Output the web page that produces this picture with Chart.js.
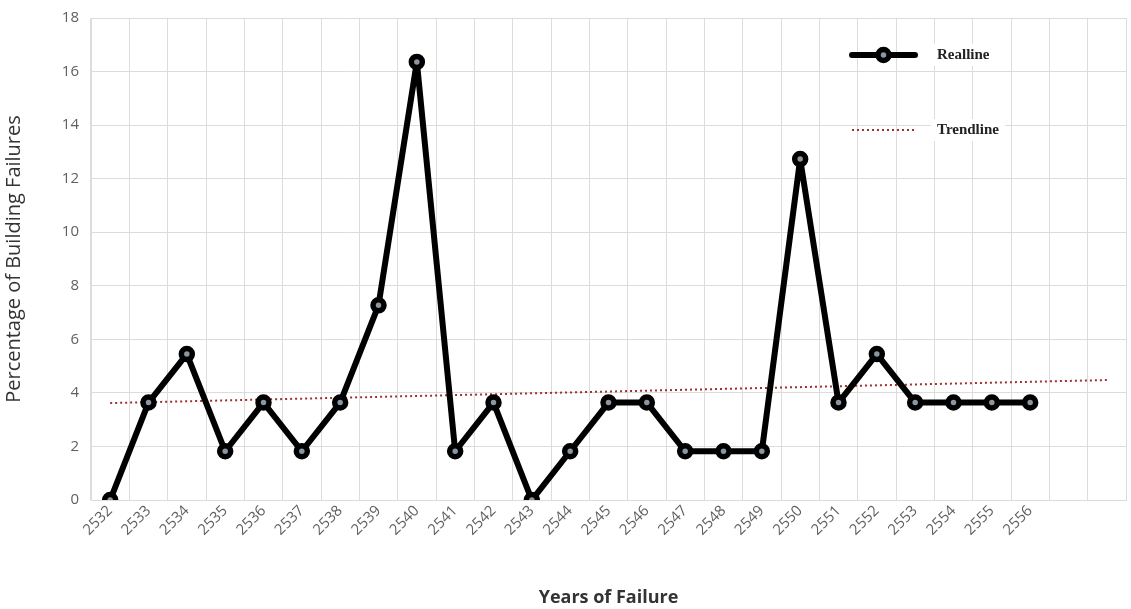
<!DOCTYPE html>
<html>
<head>
<meta charset="utf-8">
<script src="https://cdn.jsdelivr.net/npm/chart.js@4"></script>
<style>
  html, body { margin: 0; padding: 0; background: #fff; }
  #wrap { width: 1131px; height: 609px; }
</style>
</head>
<body>
<div id="wrap"><canvas id="lineChart"></canvas></div>
<script>
// years on the x axis, two empty slots at the end like the original sheet
const years = ['2532', '2533', '2534', '2535', '2536', '2537', '2538', '2539', '2540', '2541',
    '2542', '2543', '2544', '2545', '2546', '2547', '2548', '2549', '2550', '2551',
    '2552', '2553', '2554', '2555', '2556', '', ''];

// percentage of building failures per year
const realline = [0, 3.64, 5.45, 1.82, 3.64, 1.82, 3.64, 7.27, 16.36, 1.82,
    3.64, 0, 1.82, 3.64, 3.64, 1.82, 1.82, 1.82, 12.73, 3.64,
    5.45, 3.64, 3.64, 3.64, 3.64];

// trend line read at both ends, drawn straight between them
const trendline = [3.62, null, null, null, null, null, null, null, null, null,
    null, null, null, null, null, null, null, null, null, null,
    null, null, null, null, null, null, 4.48];

const yTicks = [0, 2, 4, 6, 8, 10, 12, 14, 16, 18];

const gridColor = '#dcdcdc';
const tickColor = '#606060';

// legend drawn inside the plot area, top right
const legendInside = {
    id: 'legendInside',
    afterDraw(chart) {
        const c = chart.ctx;
        const a = chart.chartArea;
        const x0 = a.right - 274;
        const x1 = a.right - 211;
        const tx = a.right - 189;
        const rows = [
            { y: a.top + 37, text: 'Realline' },
            { y: a.top + 112, text: 'Trendline' }
        ];
        c.save();
        c.font = 'bold 15px "Liberation Serif", serif';
        c.textBaseline = 'middle';
        rows.forEach(r => {
            const w = c.measureText(r.text).width;
            c.fillStyle = '#fff';
            c.fillRect(tx - 6, r.y - 11, w + 12, 22);
        });
        // realline sample
        c.strokeStyle = '#000';
        c.lineWidth = 6;
        c.lineCap = 'round';
        c.beginPath();
        c.moveTo(x0, rows[0].y);
        c.lineTo(x1, rows[0].y);
        c.stroke();
        c.beginPath();
        c.arc((x0 + x1) / 2, rows[0].y, 5.5, 0, Math.PI * 2);
        c.fillStyle = '#8c96a0';
        c.fill();
        c.lineWidth = 5.5;
        c.stroke();
        // trendline sample
        c.strokeStyle = '#a0302c';
        c.lineWidth = 2;
        c.lineCap = 'butt';
        c.setLineDash([2, 3]);
        c.beginPath();
        c.moveTo(x0, rows[1].y);
        c.lineTo(x1, rows[1].y);
        c.stroke();
        c.setLineDash([]);
        c.fillStyle = '#222';
        rows.forEach(r => c.fillText(r.text, tx, r.y));
        c.restore();
    }
};

new Chart(document.getElementById('lineChart'), {
    type: 'line',
    data: {
        labels: years,
        datasets: [{
            label: 'Realline',
            data: realline,
            borderColor: '#000',
            borderWidth: 6,
            borderJoinStyle: 'round',
            borderCapStyle: 'round',
            pointRadius: 5.5,
            pointBorderWidth: 5.5,
            pointBackgroundColor: '#8c96a0',
            pointBorderColor: '#000',
            tension: 0
        }, {
            label: 'Trendline',
            data: trendline,
            spanGaps: true,
            borderColor: '#a0302c',
            borderWidth: 2,
            borderDash: [2, 3],
            pointRadius: 0
        }]
    },
    options: {
        responsive: true,
        maintainAspectRatio: false,
        animation: false,
        layout: { autoPadding: false, padding: { top: 18, right: 5, left: 2, bottom: 0 } },
        plugins: {
            legend: { display: false },
            tooltip: { enabled: false }
        },
        scales: {
            x: {
                offset: true,
                grid: { offset: true, color: gridColor, lineWidth: 1, drawTicks: false },
                border: { color: gridColor },
                ticks: {
                    color: tickColor,
                    font: { family: '"Open Sans", sans-serif', size: 15 },
                    minRotation: 45,
                    maxRotation: 45,
                    autoSkip: false,
                    padding: 2
                },
                title: {
                    display: true,
                    text: 'Years of Failure',
                    color: '#333',
                    font: { family: '"Open Sans", sans-serif', size: 18, weight: 'bold' },
                    padding: { top: 0, bottom: 0 }
                },
                afterFit(scale) {
                    scale.height = 109;
                    scale.paddingRight = 0;
                    scale.paddingLeft = 0;
                }
            },
            y: {
                min: 0,
                max: 18,
                afterBuildTicks(scale) { scale.ticks = yTicks.map(v => ({ value: v })); },
                grid: { color: gridColor, lineWidth: 1, drawTicks: false },
                border: { color: gridColor },
                ticks: {
                    color: tickColor,
                    font: { family: '"Open Sans", sans-serif', size: 15 },
                    padding: 12
                },
                title: {
                    display: true,
                    text: 'Percentage of Building Failures',
                    color: '#333',
                    font: { family: '"Open Sans", sans-serif', size: 20 },
                    padding: { top: 0, bottom: 0 }
                },
                afterFit(scale) {
                    scale.width = 89;
                    scale.paddingTop = 0;
                    scale.paddingBottom = 0;
                }
            }
        }
    },
    plugins: [legendInside]
});
</script>
</body>
</html>
